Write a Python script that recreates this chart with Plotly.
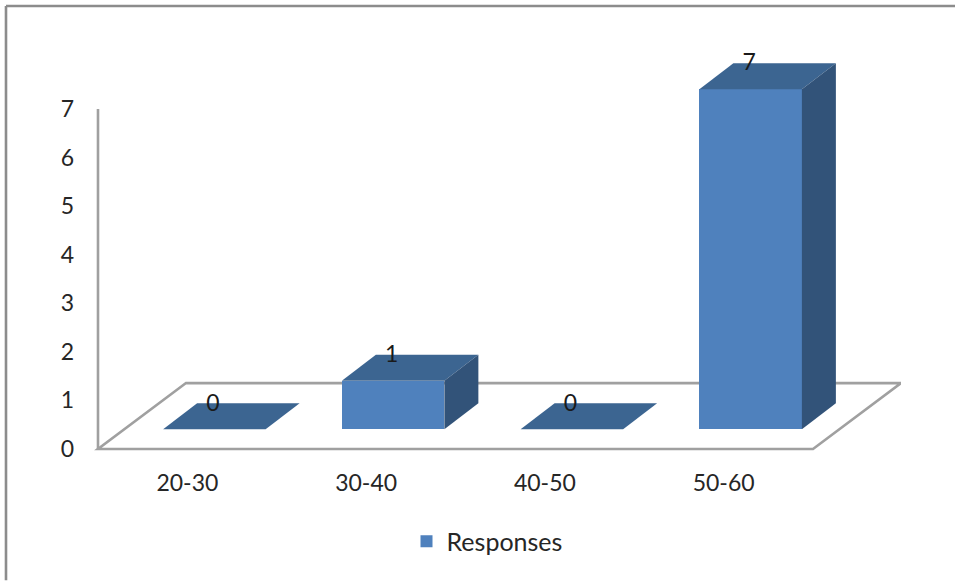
import plotly.graph_objects as go

# Data
categories = ["20-30", "30-40", "40-50", "50-60"]
responses = [0, 1, 0, 7]
series_name = "Responses"
y_ticks = [0, 1, 2, 3, 4, 5, 6, 7]

# Style / geometry of the pseudo-3D chart
FRONT = "#4F81BD"
TOP = "#3C6591"
SIDE = "#325379"
GREY = "#A0A0A0"
TEXT = "#262626"
FONT = "Lato"
FS = 23

W, H = 955, 581
PAD = 6                 # spare pixels so the floor and wall lines are not clipped
L, R, T, B = 98 - PAD, 54, 30, 131.5 - PAD
px_x = 178.75           # pixels per category
px_y = 48.64            # pixels per value unit
x_lo = -0.5
x_start = x_lo - PAD / px_x
x_hi = x_start + (W - L - R) / px_x
y_start = -PAD / px_y
y_hi = y_start + (H - T - B) / px_y

depth_x = 34 / px_x     # depth offset of a bar
depth_y = 26 / px_y
floor_dx = 88 / px_x    # depth offset of the floor
floor_dy = 66 / px_y
bar_w = 102.5 / px_x
shift = 27 / px_x       # bars sit towards the back of each slot
base = 19.8 / px_y      # height of the bar feet above the front floor line

xs = list(range(len(categories)))
centres = [i + shift for i in xs]

fig = go.Figure()

fig.add_trace(go.Bar(
    x=centres, y=responses, base=base, width=bar_w, name=series_name,
    marker=dict(color=FRONT, line=dict(width=0)), showlegend=True,
))

# Top and side faces follow each bar's value
for c, v in zip(centres, responses):
    x0, x1 = c - bar_w / 2, c + bar_w / 2
    top = base + v
    fig.add_trace(go.Scatter(
        x=[x0, x1, x1 + depth_x, x0 + depth_x, x0],
        y=[top, top, top + depth_y, top + depth_y, top],
        mode="lines", fill="toself", fillcolor=TOP, line=dict(width=0),
        showlegend=False, hoverinfo="skip",
    ))
    if v > 0:
        fig.add_trace(go.Scatter(
            x=[x1, x1 + depth_x, x1 + depth_x, x1, x1],
            y=[base, base + depth_y, top + depth_y, top, base],
            mode="lines", fill="toself", fillcolor=SIDE, line=dict(width=0),
            showlegend=False, hoverinfo="skip",
        ))

# Data labels
fig.add_trace(go.Scatter(
    x=[c - 1.5 / px_x for c in centres],
    y=[base + v + depth_y - 1.5 / px_y for v in responses],
    mode="text", text=[str(v) for v in responses], textposition="middle center",
    textfont=dict(family=FONT, size=FS, color="#1a1a1a"),
    showlegend=False, hoverinfo="skip",
))

floor_right = x_lo + len(categories)
line = dict(color=GREY, width=2.6)
frame_x = (6 - L) / (W - L - R)
frame_top = (H - B - 6) / (H - T - B)
frame_line = dict(color="#8C8C8C", width=2.6)
shapes = [
    # wall axis
    dict(type="line", xref="x", yref="y", x0=x_lo, x1=x_lo, y0=0, y1=y_ticks[-1], line=line, layer="below"),
    # floor outline
    dict(type="path", xref="x", yref="y", layer="below", line=line,
         path=f"M {x_lo} 0 L {floor_right} 0 L {floor_right + floor_dx} {floor_dy} "
              f"L {x_lo + floor_dx} {floor_dy} Z"),
    # picture frame: left and top edges only
    dict(type="line", xref="paper", yref="paper", x0=frame_x, x1=frame_x,
         y0=(H - B - H) / (H - T - B), y1=frame_top, line=frame_line),
    dict(type="line", xref="paper", yref="paper", x0=frame_x, x1=(W - L) / (W - L - R),
         y0=frame_top, y1=frame_top, line=frame_line),
]

fig.update_layout(
    width=W, height=H, autosize=False,
    margin=dict(l=L, r=R, t=T, b=B, pad=0),
    paper_bgcolor="white", plot_bgcolor="rgba(0,0,0,0)",
    font=dict(family=FONT, size=FS, color=TEXT),
    shapes=shapes,
    xaxis=dict(range=[x_start, x_hi], tickmode="array", tickvals=xs, ticktext=categories,
               showgrid=False, zeroline=False, showline=False, ticks="", ticklabelstandoff=18 - PAD),
    yaxis=dict(range=[y_start, y_hi], tickmode="array", tickvals=y_ticks,
               showgrid=False, zeroline=False, showline=False, ticks="", ticklabelstandoff=23 - PAD),
    legend=dict(orientation="h", x=(487 - L) / (W - L - R), xanchor="center",
                y=(H - B - 542) / (H - T - B), yanchor="middle",
                font=dict(family=FONT, size=25, color=TEXT), bgcolor="rgba(0,0,0,0)"),
    bargap=0, showlegend=True,
)

fig.write_html("out.html", config=dict(displayModeBar=False),
               post_script="document.body.style.margin='0';document.body.style.overflow='hidden';")
